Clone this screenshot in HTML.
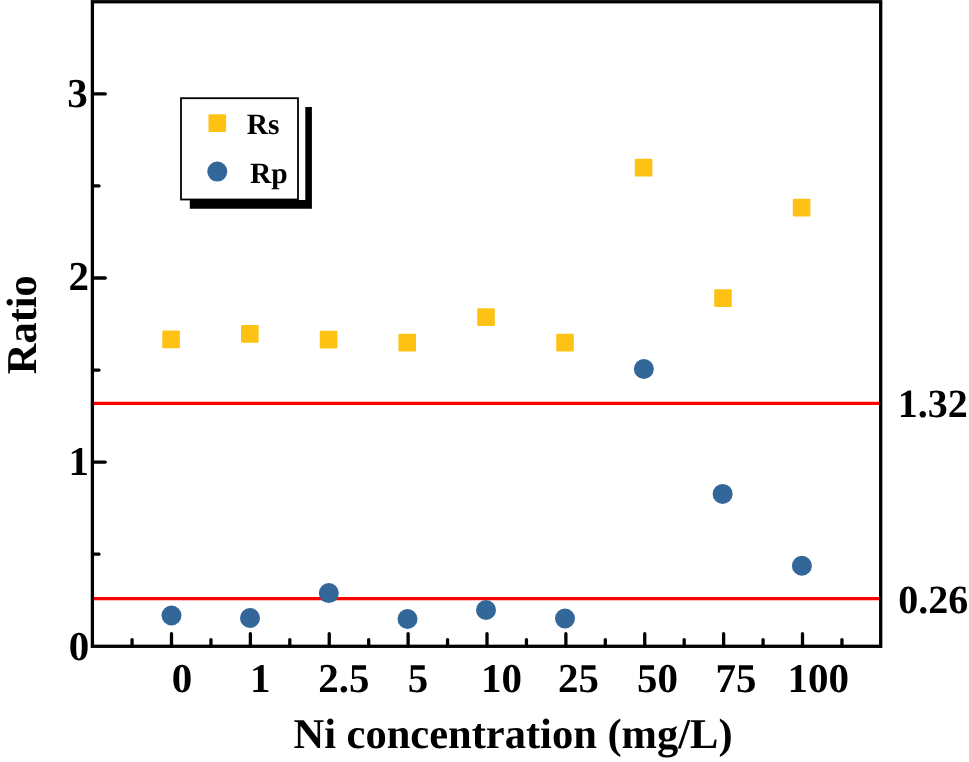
<!DOCTYPE html>
<html><head><meta charset="utf-8"><style>
html,body{margin:0;padding:0;background:#fff;width:969px;height:762px;overflow:hidden}
svg{display:block;filter:grayscale(0%)}
text{font-family:"Liberation Serif",serif;font-weight:bold;fill:#000;text-rendering:geometricPrecision}
</style></head><body>
<svg width="969" height="762" viewBox="0 0 969 762">
<rect width="969" height="762" fill="#fff"/>
<path d="M94 403.4H879M94 598.7H879" stroke="#ff0000" stroke-width="3.2"/>
<g fill="#FEC214"><rect x="162.25" y="330.45" width="17.6" height="17.8" rx="1.2"/><rect x="241.00" y="324.95" width="17.6" height="17.8" rx="1.2"/><rect x="319.80" y="330.70" width="17.6" height="17.8" rx="1.2"/><rect x="398.40" y="333.70" width="17.6" height="17.8" rx="1.2"/><rect x="477.20" y="308.20" width="17.6" height="17.8" rx="1.2"/><rect x="556.20" y="333.70" width="17.6" height="17.8" rx="1.2"/><rect x="634.80" y="158.80" width="17.6" height="17.8" rx="1.2"/><rect x="714.20" y="289.20" width="17.6" height="17.8" rx="1.2"/><rect x="792.80" y="198.70" width="17.6" height="17.8" rx="1.2"/></g>
<g fill="#336699"><circle cx="171.5" cy="615.5" r="10.0"/><circle cx="250" cy="618" r="10.0"/><circle cx="328.8" cy="593.1" r="10.0"/><circle cx="407.5" cy="619" r="10.0"/><circle cx="486" cy="610" r="10.0"/><circle cx="565" cy="618.5" r="10.0"/><circle cx="643.85" cy="369" r="10.0"/><circle cx="722.65" cy="493.9" r="10.0"/><circle cx="801.9" cy="565.7" r="10.0"/></g>
<rect x="92.4" y="1.75" width="788.3" height="644.55" fill="none" stroke="#000" stroke-width="3.3"/>
<path d="M171.50 646V633.6 M250.38 646V633.6 M329.25 646V633.6 M408.12 646V633.6 M487.00 646V633.6 M565.88 646V633.6 M644.75 646V633.6 M723.62 646V633.6 M802.50 646V633.6 M132.06 646V639.6 M210.94 646V639.6 M289.81 646V639.6 M368.69 646V639.6 M447.56 646V639.6 M526.44 646V639.6 M605.31 646V639.6 M684.19 646V639.6 M763.06 646V639.6 M841.94 646V639.6 M93 462.10H105.3 M93 278.00H105.3 M93 93.90H105.3 M93 554.15H99 M93 370.05H99 M93 185.95H99" stroke="#000" stroke-width="3.3" stroke-linecap="round" fill="none"/>
<text transform="translate(68.64 659.64) scale(1 1.0)" font-size="41px">0</text><text transform="translate(68.40 474.56) scale(1 1.0)" font-size="41px">1</text><text transform="translate(68.40 290.20) scale(1 1.0)" font-size="41px">2</text><text transform="translate(67.28 107.40) scale(1 1.0)" font-size="41px">3</text><text transform="translate(171.74 692.40) scale(1 1.0)" font-size="41px">0</text><text transform="translate(250.10 692.40) scale(1 1.0)" font-size="41px">1</text><text transform="translate(318.28 692.40) scale(1 1.0)" font-size="41px">2.5</text><text transform="translate(407.68 692.40) scale(1 1.0)" font-size="41px">5</text><text transform="translate(480.90 692.40) scale(1 1.0)" font-size="41px">10</text><text transform="translate(558.00 692.40) scale(1 1.0)" font-size="41px">25</text><text transform="translate(637.04 692.40) scale(1 1.0)" font-size="41px">50</text><text transform="translate(715.60 692.40) scale(1 1.0)" font-size="41px">75</text><text transform="translate(787.42 692.40) scale(1 1.0)" font-size="41px">100</text><text transform="translate(897.80 416.60) scale(1 1.0)" font-size="40px">1.32</text><text transform="translate(898.26 612.74) scale(1 1.0)" font-size="40px">0.26</text>
<text x="293.4600000000002" y="747.9999999999999" font-size="42.5px">Ni concentration (mg/L)</text>
<text transform="translate(35.70000000000002 374.2999999999997) rotate(-90)" font-size="42.5px">Ratio</text>
<path d="M305.3 107.1H311.9V208.7H189.8V199.9H305.3Z" fill="#000"/>
<rect x="181" y="98.2" width="117" height="101.3" fill="#fff" stroke="#000" stroke-width="1.8"/>
<rect x="208.50" y="114.30" width="17.6" height="17.6" rx="1.2" fill="#FEC214"/>
<circle cx="217.3" cy="171.6" r="10.0" fill="#336699"/>
<text x="246.68000000000006" y="133.52" font-size="29.5px">Rs</text><text x="249.98000000000016" y="182.92000000000002" font-size="29.5px">Rp</text>
</svg>
</body></html>
